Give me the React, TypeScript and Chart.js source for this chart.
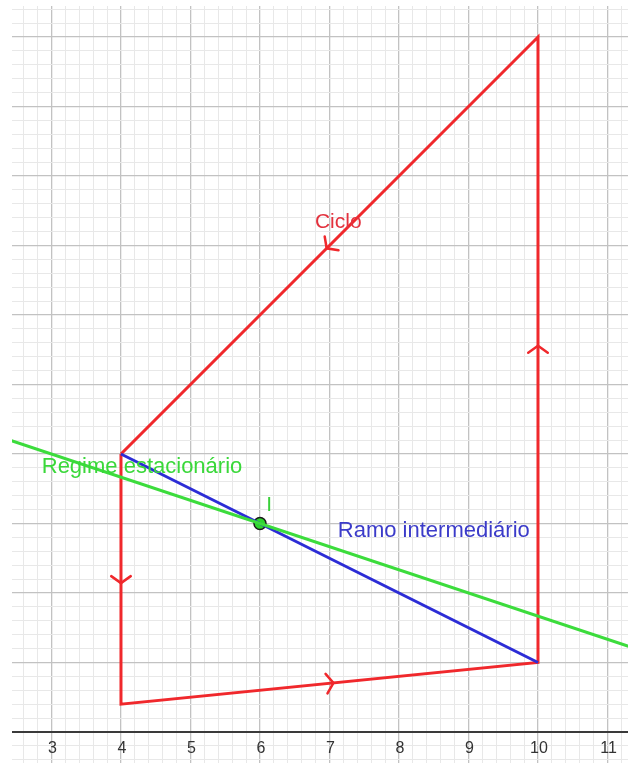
import React, { useEffect, useRef } from 'react';
import { Chart, registerables } from 'chart.js';

Chart.register(...registerables);

// ---- data ----
const cyclePoints = [
  { x: 4, y: 4 },
  { x: 4, y: 0.4 },
  { x: 10, y: 1 },
  { x: 10, y: 10 },
  { x: 4, y: 4 },
];
const branchPoints = [
  { x: 4, y: 4 },
  { x: 10, y: 1 },
];
const steadyPoints = [
  { x: 2.4, y: 4.2 },
  { x: 11.4, y: 1.2 },
];
const pointI = [{ x: 6, y: 3 }];
const xTickLabels = [3, 4, 5, 6, 7, 8, 9, 10, 11];
const labelTexts = ['Ciclo', 'Regime estacionário', 'Ramo intermediário', 'I'];
const labelX = [6.79, 2.86, 7.12, 6.09];
const labelY = [7.25, 3.73, 2.81, 3.18];
const labelSizes = [21, 22, 22, 21];
const labelColors = ['#e3323e', '#3ad83a', '#3b3bc9', '#3ad03a'];
const xRange = [2.432, 11.295];
const yRange = [-0.446, 10.446];

const RED = '#f0282c';
const BLUE = '#2c2cd6';
const GREEN = '#3cdc3c';

function gridTicks(scale: any) {
  const t: any[] = [];
  const a = Math.ceil(scale.min * 5 - 1e-9);
  const b = Math.floor(scale.max * 5 + 1e-9);
  for (let k = a; k <= b; k++) t.push({ value: k / 5 });
  scale.ticks = t;
}
function isMajor(v: number) {
  return Math.abs(v - Math.round(v)) < 1e-6;
}

const decorPlugin = {
  id: 'decor',
  beforeDatasetsDraw(chart: any) {
    const { ctx, scales, chartArea } = chart;
    const xs = scales.x, ys = scales.y;
    const y0 = ys.getPixelForValue(0);
    ctx.save();
    ctx.strokeStyle = '#3a3a3a';
    ctx.lineWidth = 2;
    ctx.beginPath();
    ctx.moveTo(chartArea.left, y0);
    ctx.lineTo(chartArea.right, y0);
    ctx.stroke();
    ctx.fillStyle = '#333';
    ctx.font = '16px "Liberation Sans", Arial, sans-serif';
    ctx.textAlign = 'center';
    ctx.textBaseline = 'alphabetic';
    xTickLabels.forEach((v) => {
      ctx.fillText(String(v), xs.getPixelForValue(v) + 1, y0 + 21);
    });
    ctx.restore();
  },
  afterDatasetsDraw(chart: any) {
    const { ctx, scales } = chart;
    const xs = scales.x, ys = scales.y;
    ctx.save();
    // arrows at segment midpoints of the cycle
    ctx.strokeStyle = RED;
    ctx.lineWidth = 2.5;
    ctx.lineCap = 'round';
    for (let i = 0; i < cyclePoints.length - 1; i++) {
      const p = cyclePoints[i], q = cyclePoints[i + 1];
      const px = xs.getPixelForValue(p.x), py = ys.getPixelForValue(p.y);
      const qx = xs.getPixelForValue(q.x), qy = ys.getPixelForValue(q.y);
      const ang = Math.atan2(qy - py, qx - px);
      const mx = (px + qx) / 2 + Math.cos(ang) * 4;
      const my = (py + qy) / 2 + Math.sin(ang) * 4;
      const L = 12, spread = 0.95;
      ctx.beginPath();
      ctx.moveTo(mx - Math.cos(ang - spread) * L, my - Math.sin(ang - spread) * L);
      ctx.lineTo(mx, my);
      ctx.lineTo(mx - Math.cos(ang + spread) * L, my - Math.sin(ang + spread) * L);
      ctx.stroke();
    }
    // text labels
    ctx.textAlign = 'left';
    ctx.textBaseline = 'alphabetic';
    labelTexts.forEach((t, i) => {
      ctx.font = labelSizes[i] + 'px "Liberation Sans", Arial, sans-serif';
      ctx.fillStyle = labelColors[i];
      ctx.fillText(t, xs.getPixelForValue(labelX[i]), ys.getPixelForValue(labelY[i]));
    });
    ctx.restore();
  },
};

export default function App() {
  const ref = useRef<HTMLCanvasElement | null>(null);
  useEffect(() => {
    if (!ref.current) return;
    const gridOpts = {
      drawTicks: false,
      color: (c: any) => (c.tick && isMajor(c.tick.value) ? '#c2c2c2' : '#e8e8e8'),
      lineWidth: (c: any) => (c.tick && isMajor(c.tick.value) ? 1.3 : 1),
    };
    const chart = new Chart(ref.current, {
      type: 'scatter',
      data: {
        datasets: [
          {
            data: steadyPoints,
            showLine: true,
            borderColor: GREEN,
            borderWidth: 3,
            pointRadius: 0,
          },
          {
            data: branchPoints,
            showLine: true,
            borderColor: BLUE,
            borderWidth: 3,
            pointRadius: 0,
          },
          {
            data: cyclePoints,
            showLine: true,
            borderColor: RED,
            borderWidth: 3,
            pointRadius: 0,
          },
          {
            data: pointI,
            showLine: false,
            pointRadius: 6,
            backgroundColor: '#2ed42e',
            borderColor: '#1a1a1a',
            borderWidth: 1.5,
          },
        ],
      },
      options: {
        responsive: false,
        maintainAspectRatio: false,
        devicePixelRatio: 1,
        animation: false,
        events: [],
        layout: { autoPadding: false, padding: { left: 12, top: 6, right: 0, bottom: 0 } },
        plugins: { legend: { display: false }, tooltip: { enabled: false } },
        scales: {
          x: {
            type: 'linear',
            min: xRange[0],
            max: xRange[1],
            afterBuildTicks: gridTicks,
            ticks: { display: false },
            border: { display: false },
            grid: gridOpts as any,
          },
          y: {
            type: 'linear',
            min: yRange[0],
            max: yRange[1],
            afterBuildTicks: gridTicks,
            ticks: { display: false },
            border: { display: false },
            grid: gridOpts as any,
          },
        },
      },
      plugins: [decorPlugin],
    });
    return () => chart.destroy();
  }, []);
  return (
    <div style={{ position: 'fixed', left: 0, top: 0, width: 628, height: 763, background: '#fff' }}>
      <canvas ref={ref} width={628} height={763} style={{ width: 628, height: 763, display: 'block' }} />
    </div>
  );
}
